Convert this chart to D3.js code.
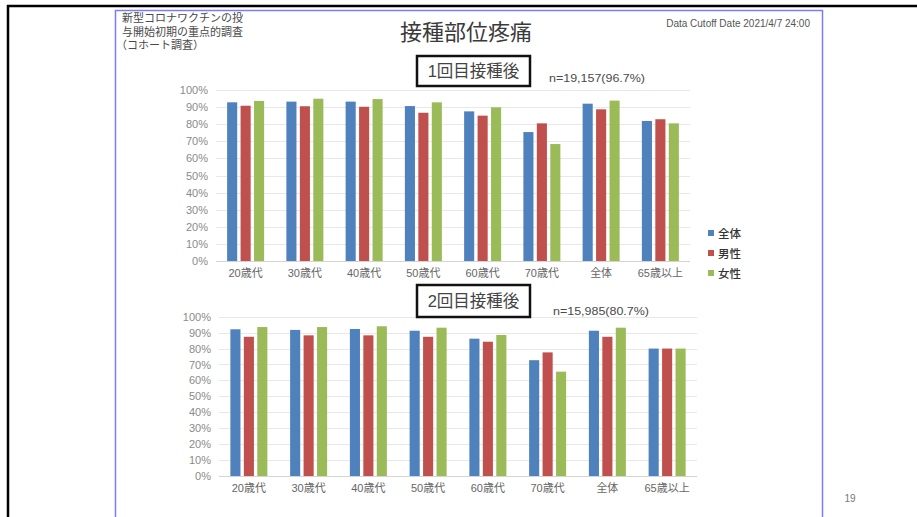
<!DOCTYPE html>
<html>
<head>
<meta charset="utf-8">
<script src="https://cdn.jsdelivr.net/npm/d3@7"></script>
<style>
  body { margin: 0; background: #fff; }
  svg { display: block; }
  text { font-family: "Liberation Sans", "Noto Sans CJK JP", sans-serif; }
</style>
</head>
<body>
<div id="chart"></div>
<script>
// categories and series
const categories = ["20歳代", "30歳代", "40歳代", "50歳代", "60歳代", "70歳代", "全体", "65歳以上"];
const seriesNames = ["全体", "男性", "女性"];
const seriesColors = ["#4f81bd", "#c0504d", "#9bbb59"];
const yTicks = [0, 10, 20, 30, 40, 50, 60, 70, 80, 90, 100];

// 1回目接種後 (%)
const dose1All = [92.8, 93.2, 93.2, 90.6, 87.5, 75.4, 92.0, 81.9];
const dose1Male = [90.8, 90.5, 90.2, 86.7, 85.0, 80.5, 88.7, 82.9];
const dose1Female = [93.6, 94.9, 94.7, 92.8, 89.9, 68.4, 93.8, 80.5];

// 2回目接種後 (%)
const dose2All = [92.1, 91.7, 92.3, 91.2, 86.2, 72.7, 91.2, 80.0];
const dose2Male = [87.4, 88.3, 88.3, 87.4, 84.3, 77.6, 87.4, 80.0];
const dose2Female = [93.5, 93.5, 94.0, 93.1, 88.5, 65.5, 93.1, 80.0];

var W = 917, H = 517;
var svg = d3.select("#chart").append("svg")
    .attr("width", W)
    .attr("height", H);

svg.append("rect").attr("width", W).attr("height", H).attr("fill", "#fff");

// slide frame lines
svg.append("line").attr("x1", 7).attr("x2", W).attr("y1", 6).attr("y2", 6)
    .attr("stroke", "#000").attr("stroke-width", 2.5);
svg.append("line").attr("x1", 8).attr("x2", 8).attr("y1", 5).attr("y2", H)
    .attr("stroke", "#000").attr("stroke-width", 2.5);
svg.append("rect").attr("x", 115.5).attr("y", 10.5).attr("width", 707).attr("height", 515)
    .attr("fill", "none").attr("stroke", "#7b7bff").attr("stroke-width", 1.5);

// header texts
var note = svg.append("text").attr("x", 122).attr("y", 22)
    .attr("font-size", 11).attr("fill", "#4a4a4a");
["新型コロナワクチンの投", "与開始初期の重点的調査", "（コホート調査）"].forEach(function(t, i) {
  note.append("tspan").attr("x", i == 2 ? 116 : 122).attr("dy", i == 0 ? 0 : 13.5).text(t);
});

svg.append("text").attr("x", 466).attr("y", 40)
    .attr("text-anchor", "middle").attr("font-size", 22).attr("fill", "#3a3a3a")
    .text("接種部位疼痛");

svg.append("text").attr("x", 810).attr("y", 27)
    .attr("text-anchor", "end").attr("font-size", 10).attr("fill", "#555")
    .text("Data Cutoff Date 2021/4/7 24:00");

svg.append("text").attr("x", 850).attr("y", 502)
    .attr("text-anchor", "middle").attr("font-size", 10)
    .attr("font-family", "Open Sans").attr("fill", "#777")
    .text("19");

function drawPanel(cfg) {
  var data = categories.map(function(c, i) {
    return { cat: c, vals: cfg.series.map(function(s) { return s[i]; }) };
  });

  var x0 = d3.scaleBand().domain(categories).range([cfg.left, cfg.right]).padding(0);
  var groupW = 37;
  var x1 = d3.scaleBand().domain(seriesNames)
      .range([(x0.bandwidth() - groupW) / 2, (x0.bandwidth() + groupW) / 2])
      .paddingInner(0.25);
  var y = d3.scaleLinear().domain([0, 100]).range([cfg.bottom, cfg.top]);

  var g = svg.append("g");

  // gridlines
  g.append("g").selectAll("line")
    .data(yTicks)
    .enter().append("line")
      .attr("x1", cfg.left).attr("x2", cfg.right)
      .attr("y1", function(d) { return Math.round(y(d)) + 0.5; })
      .attr("y2", function(d) { return Math.round(y(d)) + 0.5; })
      .attr("stroke", function(d) { return d == 0 ? "#d4d4d4" : "#e8e8e8"; })
      .attr("stroke-width", 1);

  // y axis labels
  var yAxis = g.append("g")
      .attr("transform", "translate(" + (cfg.left - 8) + ",0)")
      .call(d3.axisLeft(y).tickValues(yTicks).tickSize(0).tickPadding(0)
        .tickFormat(function(d) { return d + "%"; }));
  yAxis.select(".domain").remove();
  yAxis.selectAll("text").attr("font-size", 11).attr("fill", "#8a8a8a")
      .attr("font-family", "Liberation Sans");

  // x axis labels
  var xAxis = g.append("g")
      .attr("transform", "translate(0," + cfg.bottom + ")")
      .call(d3.axisBottom(x0).tickSize(0).tickPadding(8));
  xAxis.select(".domain").remove();
  xAxis.selectAll("text").attr("font-size", 11).attr("fill", "#666");

  // bars
  g.append("g").selectAll("g")
    .data(data)
    .enter().append("g")
      .attr("transform", function(d) { return "translate(" + x0(d.cat) + ",0)"; })
    .selectAll("rect")
    .data(function(d) { return d.vals.map(function(v, i) { return { key: seriesNames[i], v: v, i: i }; }); })
    .enter().append("rect")
      .attr("x", function(d) { return x1(d.key); })
      .attr("width", x1.bandwidth())
      .attr("y", function(d) { return y(d.v); })
      .attr("height", function(d) { return y(0) - y(d.v); })
      .attr("fill", function(d) { return seriesColors[d.i]; });

  // boxed label
  svg.append("rect")
      .attr("x", cfg.box[0]).attr("y", cfg.box[1])
      .attr("width", cfg.box[2]).attr("height", cfg.box[3])
      .attr("fill", "#fff").attr("stroke", "#111").attr("stroke-width", 2.5);
  svg.append("text")
      .attr("x", cfg.box[0] + cfg.box[2] / 2).attr("y", cfg.box[1] + cfg.box[3] / 2 + 6)
      .attr("text-anchor", "middle").attr("font-size", 16.5).attr("fill", "#444")
      .text(cfg.boxText);

  svg.append("text")
      .attr("x", cfg.nPos[0]).attr("y", cfg.nPos[1])
      .attr("font-size", 11).attr("fill", "#4a4a4a")
      .attr("textLength", 96).attr("lengthAdjust", "spacingAndGlyphs")
      .text(cfg.nText);

  if (cfg.legend) {
    var lg = svg.append("g").attr("transform", "translate(708,233)");
    var items = lg.selectAll("g").data(seriesNames).enter().append("g")
        .attr("transform", function(d, i) { return "translate(0," + i * 20 + ")"; });
    items.append("rect").attr("x", 0).attr("y", -3).attr("width", 6).attr("height", 6)
        .attr("fill", function(d, i) { return seriesColors[i]; });
    items.append("text").attr("x", 10).attr("y", 4.5)
        .attr("font-size", 11.5).attr("font-weight", "500").attr("fill", "#333")
        .text(function(d) { return d; });
  }
}

drawPanel({
  series: [dose1All, dose1Male, dose1Female],
  left: 216, right: 690, top: 90, bottom: 261,
  box: [417, 56, 113, 30], boxText: "1回目接種後",
  nText: "n=19,157(96.7%)", nPos: [549, 82],
  legend: true
});

drawPanel({
  series: [dose2All, dose2Male, dose2Female],
  left: 219, right: 697, top: 316.7, bottom: 476,
  box: [417, 285, 113, 32], boxText: "2回目接種後",
  nText: "n=15,985(80.7%)", nPos: [553, 315],
  legend: false
});
</script>
</body>
</html>
